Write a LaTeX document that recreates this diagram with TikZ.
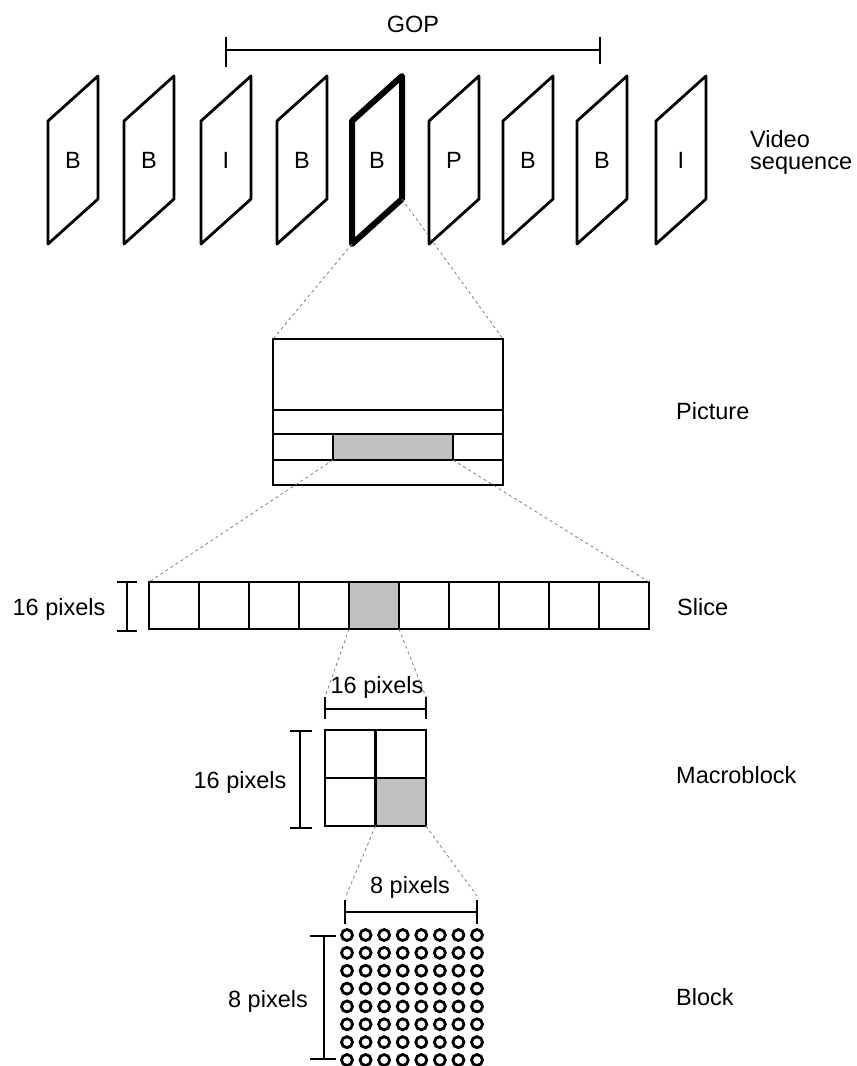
\documentclass[tikz,border=0pt]{standalone}
\usepackage{fontspec}
\setmainfont{Liberation Sans}
\begin{document}
\begin{tikzpicture}[x=1pt,y=-1pt,
  lbl/.style={font=\fontsize{23.5}{22}\selectfont, inner sep=0pt, anchor=base},
  sidelbl/.style={font=\fontsize{23.5}{22}\selectfont, inner sep=0pt, anchor=base west},
  cell/.style={draw, line width=2.7pt, minimum width=50pt, minimum height=47pt, inner sep=0pt, outer sep=0pt},
  mcell/.style={draw, line width=2.7pt, minimum width=50.5pt, minimum height=48pt, inner sep=0pt, outer sep=0pt},
  shade/.style={fill=shadegray},
  zoomline/.style={draw=gray, line width=0.8pt, dash pattern=on 3pt off 3pt},
  bracket/.style={line width=2.8pt},
  pix/.style={circle, draw, line width=2.8pt, minimum size=11pt, inner sep=0pt}
]
\definecolor{shadegray}{HTML}{C0C0C0}
\useasboundingbox (0,0) rectangle (857,1066);

% ---- video sequence frames
\foreach \L/\t/\n/\w in {48/B/1/2.8, 124/B/2/2.8, 201/I/3/2.8, 277/B/4/2.8, 352/B/5/6, 429/P/6/2.8, 503/B/7/2.8, 577/B/8/2.8, 656/I/9/2.8}{
  \coordinate (f\n-tl) at (\L,121);
  \coordinate (f\n-tr) at (\L+50,76);
  \coordinate (f\n-br) at (\L+50,199);
  \coordinate (f\n-bl) at (\L,244);
  \draw[line width=\w pt, line join=round] (f\n-bl) -- (f\n-tl) -- (f\n-tr) -- (f\n-br) -- cycle;
  \node[lbl] (f\n-lab) at (\L+25,168) {\t};
}

% GOP bracket
\coordinate (gopL) at (226,50);
\coordinate (gopR) at (600,50);
\draw[bracket] (gopL) -- (gopR);
\draw[bracket] (226,37) -- (226,67);
\draw[bracket] (600,37) -- (600,64);
\node[lbl] (gop) at (413,32) {GOP};

\node[font=\fontsize{23.5}{22}\selectfont, inner sep=0pt, anchor=north west, align=left] (vseq) at (750,130) {Video\\sequence};

% ---- picture
\node[draw, line width=2.7pt, minimum width=230pt, minimum height=146pt, inner sep=0pt, outer sep=0pt] (pic) at (388,412) {};
\node[draw, shade, line width=2.7pt, minimum width=120pt, minimum height=26pt, inner sep=0pt, outer sep=0pt] (pg) at (393,447) {};
\draw[line width=2.7pt] (273,410) -- (503,410);
\draw[line width=2.7pt] (273,434) -- (503,434);
\draw[line width=2.7pt] (273,460) -- (503,460);
\node[sidelbl] (piclbl) at (676,419) {Picture};

% ---- slice
\foreach \i in {1,...,10}{
  \node[cell] (s\i) at ({174+50*(\i-1)},605.5) {};
}
\node[cell, shade] (s5) at (374,605.5) {};
\draw[bracket] (127,582) -- (127,631);
\draw[bracket] (117,582) -- (137,582);
\draw[bracket] (117,631) -- (137,631);
\node[lbl] (slicedim) at (59,615) {16 pixels};
\node[sidelbl] (slicelbl) at (677,615) {Slice};

% ---- macroblock
\node[mcell] (m1) at (350.25,754) {};
\node[mcell] (m2) at (400.75,754) {};
\node[mcell] (m3) at (350.25,802) {};
\node[mcell, shade] (m4) at (400.75,802) {};
\coordinate (mbL) at (325,697);
\coordinate (mbR) at (426,697);
\draw[bracket] (325,709) -- (426,709);
\draw[bracket] (mbL) -- (325,719);
\draw[bracket] (mbR) -- (426,719);
\draw[bracket] (300,731) -- (300,828);
\draw[bracket] (290,731) -- (312,731);
\draw[bracket] (290,828) -- (312,828);
\node[lbl] (mbdimt) at (377,693) {16 pixels};
\node[lbl] (mbdiml) at (240,788) {16 pixels};
\node[sidelbl] (mblbl) at (676,783) {Macroblock};

% ---- block
\foreach \i in {0,...,7}{
  \foreach \j in {0,...,7}{
    \node[pix] (c\i-\j) at ({347+18.57*\i},{935+17.86*\j}) {};
  }
}
\coordinate (bkL) at (346,896);
\coordinate (bkR) at (477,896);
\draw[bracket] (345,912) -- (477,912);
\draw[bracket] (345,900) -- (345,924);
\draw[bracket] (477,900) -- (477,924);
\draw[bracket] (324,936) -- (324,1059);
\draw[bracket] (310,936) -- (336,936);
\draw[bracket] (310,1059) -- (336,1059);
\node[lbl] (bkdimt) at (410,893) {8 pixels};
\node[lbl] (bkdiml) at (268,1007) {8 pixels};
\node[sidelbl] (bklbl) at (676,1005) {Block};

% ---- zoom lines
\draw[zoomline] (f5-bl) -- (pic.north west);
\draw[zoomline] (f5-br) -- (pic.north east);
\draw[zoomline] (pg.south west) -- (s1.north west);
\draw[zoomline] (pg.south east) -- (s10.north east);
\draw[zoomline] (s5.south west) -- (mbL);
\draw[zoomline] (s5.south east) -- (mbR);
\draw[zoomline] (m4.south west) -- (bkL);
\draw[zoomline] (m4.south east) -- (bkR);
\end{tikzpicture}
\end{document}
